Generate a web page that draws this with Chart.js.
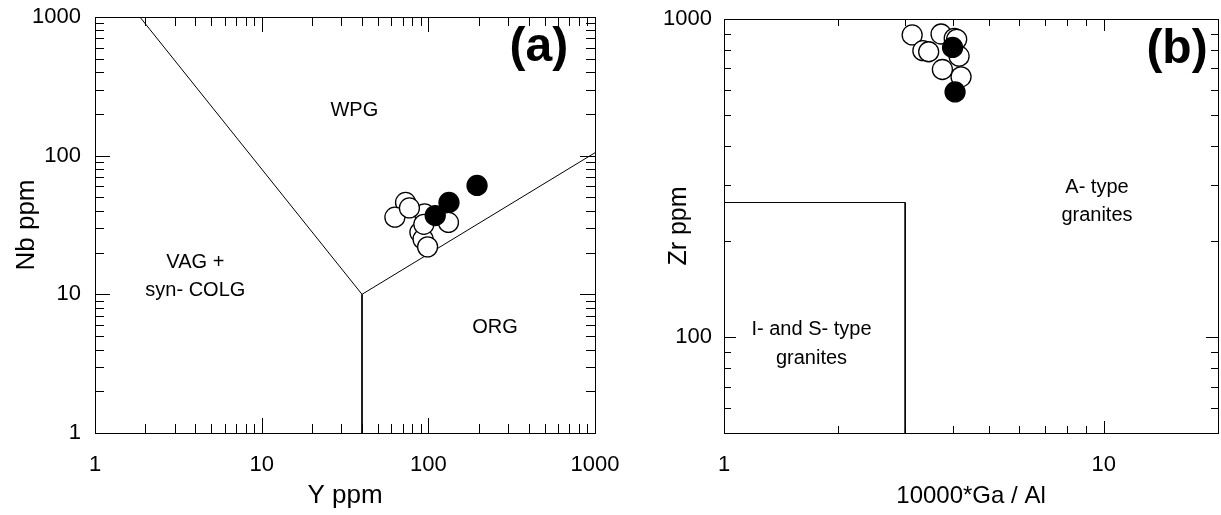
<!DOCTYPE html>
<html>
<head>
<meta charset="utf-8">
<script src="https://cdn.jsdelivr.net/npm/chart.js@4.4.0/dist/chart.umd.min.js"></script>
<style>
  html, body { margin: 0; padding: 0; background: #fff; }
  #wrap { position: relative; width: 1221px; height: 515px; overflow: hidden; }
  canvas { position: absolute; top: 0; }
  #chartA { left: 0; }
  #chartB { left: 610px; }
</style>
</head>
<body>
<div id="wrap">
  <canvas id="chartA" width="640" height="515"></canvas>
  <canvas id="chartB" width="611" height="515"></canvas>
</div>
<script>
// ---- panel (a): Nb vs Y ----
const yOpen    = [73, 63, 95, 89, 93, 99, 132, 77, 94];
const nbOpen   = [46, 36, 38, 28, 25, 22, 33, 42, 32];
const yFilled  = [110, 133, 196];
const nbFilled = [37, 46, 61];
// field boundaries
const wpgVagLine = [[1.86, 1000], [40, 10]];
const wpgOrgLine = [[40, 10], [1000, 105]];
const vagOrgLine = [[40, 10], [40, 1]];
const decadesA = [1, 10, 100, 1000];

// ---- panel (b): Zr vs 10000*Ga/Al ----
const gaAlOpen   = [3.13, 3.73, 4.04, 3.34, 3.46, 4.16, 3.76, 4.21, 4.10];
const zrOpen     = [891, 897, 869, 795, 789, 764, 694, 658, 863];
const gaAlFilled = [4.0, 4.06];
const zrFilled   = [814, 590];
const isBox      = [[1, 265], [3, 265], [3, 50]];
const decadesBx  = [1, 10];
const decadesBy  = [100, 1000];

Chart.defaults.font.family = '"Liberation Sans", Arial, sans-serif';
Chart.defaults.color = '#000';

const toPts = (xs, ys) => xs.map((v, i) => ({x: v, y: ys[i]}));
const toLine = pairs => pairs.map(p => ({x: p[0], y: p[1]}));

function lineSet(pairs) {
  return {data: toLine(pairs), showLine: true, pointRadius: 0, borderColor: '#000', borderWidth: 1, order: 3};
}
function pointSet(xs, ys, fill, order) {
  return {data: toPts(xs, ys), pointRadius: 10, pointBorderWidth: 1.3,
          pointBorderColor: '#000', pointBackgroundColor: fill, showLine: false, order: order};
}

// frame, inward log ticks on all four sides, and text labels
const frameTicks = {
  id: 'frameTicks',
  afterDraw(chart, args, opts) {
    const {ctx, chartArea: a, scales} = chart;
    const sx = scales.x, sy = scales.y;
    const logTicks = (min, max) => {
      const out = [];
      for (let e = Math.floor(Math.log10(min)); e <= Math.ceil(Math.log10(max)); e++) {
        const d = Math.pow(10, e);
        for (let m = 1; m <= 9; m++) {
          const v = m * d;
          if (v >= min * 0.999 && v <= max * 1.001) out.push({v: v, major: m === 1});
        }
      }
      return out;
    };
    ctx.save();
    ctx.strokeStyle = '#000';
    ctx.lineWidth = 1;
    ctx.strokeRect(a.left + 0.5, a.top + 0.5, a.right - a.left, a.bottom - a.top);
    ctx.beginPath();
    logTicks(sx.min, sx.max).forEach(t => {
      const x = Math.round(sx.getPixelForValue(t.v)) + 0.5;
      const len = t.major ? opts.major : opts.minor;
      ctx.moveTo(x, a.bottom); ctx.lineTo(x, a.bottom - len);
      ctx.moveTo(x, a.top); ctx.lineTo(x, a.top + len);
    });
    logTicks(sy.min, sy.max).forEach(t => {
      const y = Math.round(sy.getPixelForValue(t.v)) + 0.5;
      const len = t.major ? opts.major : opts.minor;
      ctx.moveTo(a.left, y); ctx.lineTo(a.left + len, y);
      ctx.moveTo(a.right, y); ctx.lineTo(a.right - len, y);
    });
    ctx.stroke();
    ctx.fillStyle = '#000';
    ctx.textAlign = 'center';
    ctx.textBaseline = 'middle';
    opts.labels.forEach(l => {
      ctx.font = l.font;
      ctx.fillText(l.text, sx.getPixelForValue(l.x), sy.getPixelForValue(l.y));
    });
    ctx.restore();
  }
};

function logAxis(min, max, decades, title, fit, pad, titleSize) {
  return {
    type: 'logarithmic', min: min, max: max,
    afterBuildTicks: s => { s.ticks = decades.map(v => ({value: v})); },
    ticks: {callback: v => String(v), font: {size: 22}, color: '#000', padding: pad,
            autoSkip: false, maxRotation: 0, minRotation: 0},
    grid: {display: false, drawTicks: false},
    border: {display: false},
    title: {display: true, text: title, font: {size: titleSize}, color: '#000', padding: {top: 4, bottom: 4}},
    afterFit: fit
  };
}
const fitX = h => s => { s.height = h; s.paddingLeft = 0; s.paddingRight = 0; };
const fitY = w => s => { s.width = w; s.paddingTop = 0; s.paddingBottom = 0; };

const region = '20px "Liberation Sans", Arial, sans-serif';
const tag = 'bold 48px "Liberation Sans", Arial, sans-serif';

new Chart(document.getElementById('chartA'), {
  type: 'scatter',
  data: {
    datasets: [
      lineSet(wpgVagLine), lineSet(wpgOrgLine), lineSet(vagOrgLine),
      pointSet(yOpen, nbOpen, '#fff', 2),
      pointSet(yFilled, nbFilled, '#000', 1)
    ]
  },
  options: {
    responsive: false, animation: false,
    layout: {autoPadding: false, padding: {left: 7, top: 17, right: 45, bottom: 0}},
    scales: {
      x: logAxis(1, 1000, decadesA, 'Y ppm', fitX(82), 19, 26),
      y: logAxis(1, 1000, decadesA, 'Nb ppm', fitY(88), 14, 26)
    },
    plugins: {
      legend: {display: false}, tooltip: {enabled: false},
      frameTicks: {major: 15, minor: 9, labels: [
        {text: 'WPG', x: 36, y: 213, font: region},
        {text: 'VAG +', x: 4, y: 17, font: region},
        {text: 'syn- COLG', x: 4, y: 10.7, font: region},
        {text: 'ORG', x: 251, y: 5.8, font: region},
        {text: '(a)', x: 460, y: 600, font: tag}
      ]}
    }
  },
  plugins: [frameTicks]
});

new Chart(document.getElementById('chartB'), {
  type: 'scatter',
  data: {
    datasets: [
      lineSet(isBox),
      pointSet(gaAlOpen, zrOpen, '#fff', 2),
      pointSet(gaAlFilled, zrFilled, '#000', 1)
    ]
  },
  options: {
    responsive: false, animation: false,
    layout: {autoPadding: false, padding: {left: 50, top: 19, right: 3, bottom: 0}},
    scales: {
      x: logAxis(1, 20, decadesBx, '10000*Ga / Al', fitX(82), 19, 24),
      y: logAxis(50, 1000, decadesBy, 'Zr ppm', fitY(64), 12, 25)
    },
    plugins: {
      legend: {display: false}, tooltip: {enabled: false},
      frameTicks: {major: 12, minor: 7, labels: [
        {text: 'A- type', x: 9.6, y: 296, font: region},
        {text: 'granites', x: 9.6, y: 241, font: region},
        {text: 'I- and S- type', x: 1.70, y: 106, font: region},
        {text: 'granites', x: 1.70, y: 86, font: region},
        {text: '(b)', x: 15.6, y: 799, font: tag}
      ]}
    }
  },
  plugins: [frameTicks]
});
</script>
</body>
</html>
